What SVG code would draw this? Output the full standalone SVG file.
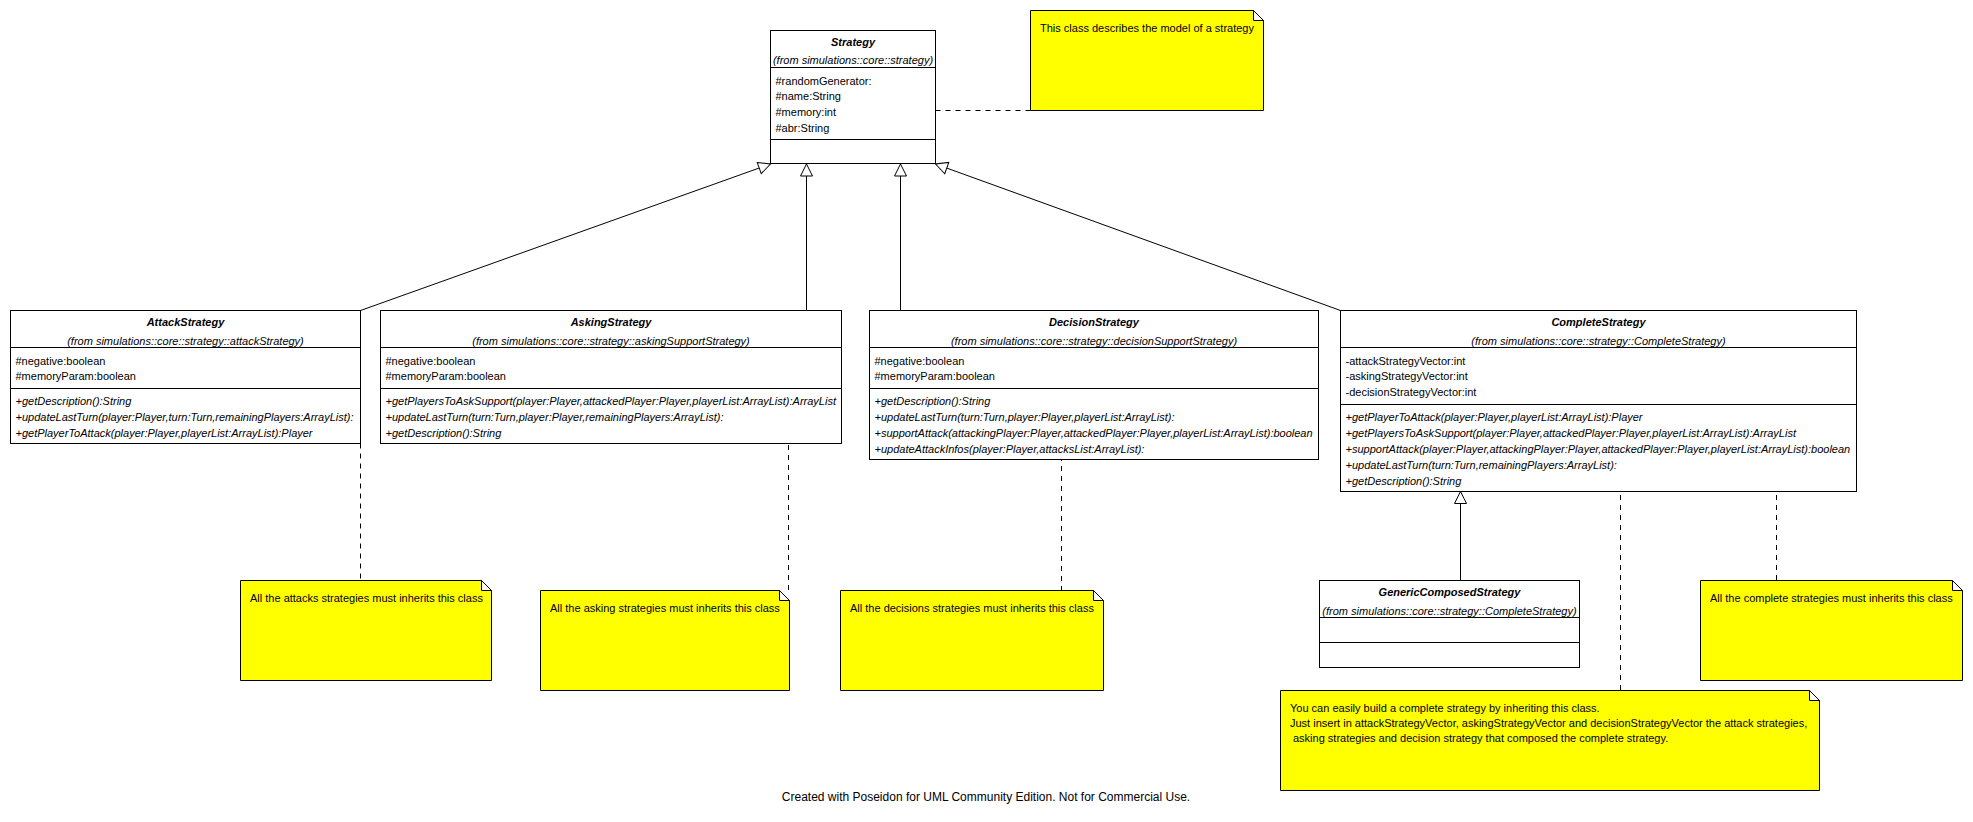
<svg xmlns="http://www.w3.org/2000/svg" width="1973" height="822" viewBox="0 0 1973 822">
<style>
.box{fill:#fff;stroke:#000;stroke-width:1}
.sep{stroke:#000;stroke-width:1}
.note{fill:#ffff00;stroke:#000;stroke-width:1}
.fold{fill:#fff;stroke:#000;stroke-width:1}
text{font-family:"Liberation Sans",Arial,sans-serif;font-size:11px;fill:#000}
.name{font-weight:bold;font-style:italic;text-anchor:middle}
.pkg{font-style:italic;text-anchor:middle}
.op{font-style:italic}
.conn{stroke:#000;stroke-width:1;fill:none}
.dash{stroke-dasharray:5,5}
.footer{font-size:12px;text-anchor:middle}
</style>
<defs>
<marker id="gen" markerUnits="userSpaceOnUse" markerWidth="14" markerHeight="14" viewBox="-1 -1 14 14" refX="12" refY="6" orient="auto">
<path d="M0,0 L12,6 L0,12 Z" fill="#fff" stroke="#000" stroke-width="1"/>
</marker>
</defs>
<rect width="1973" height="822" fill="#fff"/>

<g id="connectors">
<path class="conn" d="M360.5,310.5 L770.5,164" marker-end="url(#gen)"/>
<path class="conn" d="M806.5,310.5 L806.5,164" marker-end="url(#gen)"/>
<path class="conn" d="M900.5,310.5 L900.5,164" marker-end="url(#gen)"/>
<path class="conn" d="M1340.5,310.5 L935.5,164" marker-end="url(#gen)"/>
<path class="conn" d="M1460.5,580.5 L1460.5,491.5" marker-end="url(#gen)"/>
<path class="conn dash" d="M935.5,110.5 L1030.5,110.5"/>
<path class="conn dash" d="M360.5,443.5 L360.5,580.5"/>
<path class="conn dash" d="M788.5,425 L788.5,590.5"/>
<path class="conn dash" d="M1061.5,436 L1061.5,590.5"/>
<path class="conn dash" d="M1620.5,455 L1620.5,690.5"/>
<path class="conn dash" d="M1776.5,455 L1776.5,580.5"/>
</g>

<g id="Strategy">
<rect class="box" x="770.5" y="30.5" width="165" height="133"/>
<line class="sep" x1="770.5" y1="67.5" x2="935.5" y2="67.5"/>
<line class="sep" x1="770.5" y1="139.5" x2="935.5" y2="139.5"/>
<text class="name" x="853" y="46">Strategy</text>
<text class="pkg" x="853" y="64">(from simulations::core::strategy)</text>
<text x="775.5" y="84.5">#randomGenerator:</text>
<text x="775.5" y="100">#name:String</text>
<text x="775.5" y="116">#memory:int</text>
<text x="775.5" y="131.5">#abr:String</text>
</g>

<g id="AttackStrategy">
<rect class="box" x="10.5" y="310.5" width="350" height="133"/>
<line class="sep" x1="10.5" y1="347.5" x2="360.5" y2="347.5"/>
<line class="sep" x1="10.5" y1="388.5" x2="360.5" y2="388.5"/>
<text class="name" x="185.5" y="326">AttackStrategy</text>
<text class="pkg" x="185.5" y="344.5">(from simulations::core::strategy::attackStrategy)</text>
<text x="15.5" y="364.5">#negative:boolean</text>
<text x="15.5" y="380">#memoryParam:boolean</text>
<text class="op" x="15.5" y="404.5">+getDescription():String</text>
<text class="op" x="15.5" y="420.5">+updateLastTurn(player:Player,turn:Turn,remainingPlayers:ArrayList):</text>
<text class="op" x="15.5" y="436.5">+getPlayerToAttack(player:Player,playerList:ArrayList):Player</text>
</g>

<g id="AskingStrategy">
<rect class="box" x="380.5" y="310.5" width="461" height="133"/>
<line class="sep" x1="380.5" y1="347.5" x2="841.5" y2="347.5"/>
<line class="sep" x1="380.5" y1="388.5" x2="841.5" y2="388.5"/>
<text class="name" x="611" y="326">AskingStrategy</text>
<text class="pkg" x="611" y="344.5">(from simulations::core::strategy::askingSupportStrategy)</text>
<text x="385.5" y="364.5">#negative:boolean</text>
<text x="385.5" y="380">#memoryParam:boolean</text>
<text class="op" x="385.5" y="404.5">+getPlayersToAskSupport(player:Player,attackedPlayer:Player,playerList:ArrayList):ArrayList</text>
<text class="op" x="385.5" y="420.5">+updateLastTurn(turn:Turn,player:Player,remainingPlayers:ArrayList):</text>
<text class="op" x="385.5" y="436.5">+getDescription():String</text>
</g>

<g id="DecisionStrategy">
<rect class="box" x="869.5" y="310.5" width="449" height="149"/>
<line class="sep" x1="869.5" y1="347.5" x2="1318.5" y2="347.5"/>
<line class="sep" x1="869.5" y1="388.5" x2="1318.5" y2="388.5"/>
<text class="name" x="1094" y="326">DecisionStrategy</text>
<text class="pkg" x="1094" y="344.5">(from simulations::core::strategy::decisionSupportStrategy)</text>
<text x="874.5" y="364.5">#negative:boolean</text>
<text x="874.5" y="380">#memoryParam:boolean</text>
<text class="op" x="874.5" y="404.5">+getDescription():String</text>
<text class="op" x="874.5" y="420.5">+updateLastTurn(turn:Turn,player:Player,playerList:ArrayList):</text>
<text class="op" x="874.5" y="436.5">+supportAttack(attackingPlayer:Player,attackedPlayer:Player,playerList:ArrayList):boolean</text>
<text class="op" x="874.5" y="452.5">+updateAttackInfos(player:Player,attacksList:ArrayList):</text>
</g>

<g id="CompleteStrategy">
<rect class="box" x="1340.5" y="310.5" width="516" height="181"/>
<line class="sep" x1="1340.5" y1="347.5" x2="1856.5" y2="347.5"/>
<line class="sep" x1="1340.5" y1="404.5" x2="1856.5" y2="404.5"/>
<text class="name" x="1598.5" y="326">CompleteStrategy</text>
<text class="pkg" x="1598.5" y="344.5">(from simulations::core::strategy::CompleteStrategy)</text>
<text x="1345.5" y="364.5">-attackStrategyVector:int</text>
<text x="1345.5" y="380">-askingStrategyVector:int</text>
<text x="1345.5" y="396">-decisionStrategyVector:int</text>
<text class="op" x="1345.5" y="420.5">+getPlayerToAttack(player:Player,playerList:ArrayList):Player</text>
<text class="op" x="1345.5" y="436.5">+getPlayersToAskSupport(player:Player,attackedPlayer:Player,playerList:ArrayList):ArrayList</text>
<text class="op" x="1345.5" y="452.5">+supportAttack(player:Player,attackingPlayer:Player,attackedPlayer:Player,playerList:ArrayList):boolean</text>
<text class="op" x="1345.5" y="468.5">+updateLastTurn(turn:Turn,remainingPlayers:ArrayList):</text>
<text class="op" x="1345.5" y="484.5">+getDescription():String</text>
</g>

<g id="GenericComposedStrategy">
<rect class="box" x="1319.5" y="580.5" width="260" height="87"/>
<line class="sep" x1="1319.5" y1="617.5" x2="1579.5" y2="617.5"/>
<line class="sep" x1="1319.5" y1="642.5" x2="1579.5" y2="642.5"/>
<text class="name" x="1449.5" y="596">GenericComposedStrategy</text>
<text class="pkg" x="1449.5" y="614.5">(from simulations::core::strategy::CompleteStrategy)</text>
</g>

<g id="NoteStrategy">
<path class="note" d="M1030.5,10.5 H1253.5 L1263.5,20.5 V110.5 H1030.5 Z"/>
<path class="fold" d="M1253.5,10.5 V20.5 H1263.5 Z"/>
<text x="1040" y="31.5">This class describes the model of a strategy</text>
</g>

<g id="NoteAttack">
<path class="note" d="M240.5,580.5 H481.5 L491.5,590.5 V680.5 H240.5 Z"/>
<path class="fold" d="M481.5,580.5 V590.5 H491.5 Z"/>
<text x="250" y="601.5">All the attacks strategies must inherits this class</text>
</g>

<g id="NoteAsking">
<path class="note" d="M540.5,590.5 H779.5 L789.5,600.5 V690.5 H540.5 Z"/>
<path class="fold" d="M779.5,590.5 V600.5 H789.5 Z"/>
<text x="550" y="611.5">All the asking strategies must inherits this class</text>
</g>

<g id="NoteDecision">
<path class="note" d="M840.5,590.5 H1093.5 L1103.5,600.5 V690.5 H840.5 Z"/>
<path class="fold" d="M1093.5,590.5 V600.5 H1103.5 Z"/>
<text x="850" y="611.5">All the decisions strategies must inherits this class</text>
</g>

<g id="NoteComplete">
<path class="note" d="M1700.5,580.5 H1952.5 L1962.5,590.5 V680.5 H1700.5 Z"/>
<path class="fold" d="M1952.5,580.5 V590.5 H1962.5 Z"/>
<text x="1710" y="601.5">All the complete strategies must inherits this class</text>
</g>

<g id="NoteGeneric">
<path class="note" d="M1280.5,690.5 H1809.5 L1819.5,700.5 V790.5 H1280.5 Z"/>
<path class="fold" d="M1809.5,690.5 V700.5 H1819.5 Z"/>
<text x="1290" y="711.5">You can easily build a complete strategy by inheriting this class.</text>
<text x="1290" y="726.5">Just insert in attackStrategyVector, askingStrategyVector and decisionStrategyVector the attack strategies,</text>
<text x="1293" y="741.5">asking strategies and decision strategy that composed the complete strategy.</text>
</g>

<text class="footer" x="986" y="801">Created with Poseidon for UML Community Edition. Not for Commercial Use.</text>
</svg>
